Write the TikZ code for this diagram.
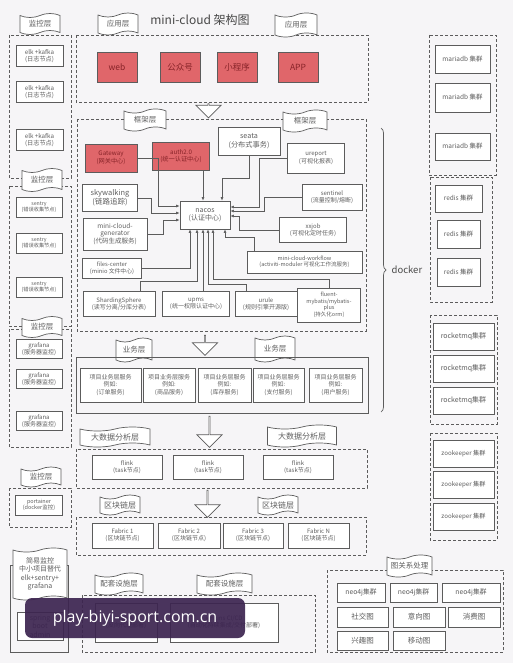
\documentclass[tikz,border=0pt]{standalone}
\usepackage{fontspec}
\setmainfont{Noto Sans CJK SC}
\newfontfamily\wmfont{Open Sans}
\usetikzlibrary{shapes.symbols,shapes.arrows,decorations.pathreplacing,arrows.meta}
\definecolor{bgc}{RGB}{246,245,247}
\definecolor{lnc}{RGB}{92,92,92}
\definecolor{txt}{RGB}{95,95,95}
\definecolor{appred}{RGB}{224,102,106}
\definecolor{redtxt}{RGB}{135,35,40}
\definecolor{wmark}{RGB}{60,36,80}
\newcommand\fsz[1]{\fontsize{#1pt}{\dimexpr #1pt*6/5\relax}\selectfont}

\begin{document}
\begin{tikzpicture}[x=1pt, y=-1pt, >={Latex[length=3.5pt,width=3pt]},
	every node/.style={font=\fsz{6}, text=txt},
	wh/.style 2 args={minimum width=#1, minimum height=#2},
	box/.style={draw=lnc, fill=white, line width=0.7pt, align=center, inner sep=0.5pt},
	redbox/.style={box, fill=appred, text=redtxt},
	grp/.style={draw=lnc, line width=0.7pt, dash pattern=on 3pt off 2pt},
	flag/.style={tape, draw=lnc, fill=white, line width=0.7pt, inner sep=0pt, tape bend height=4pt, align=center, font=\fsz{7.5}},
	downarrow/.style={single arrow, draw=lnc, fill=white, line width=0.7pt, rotate=-90, minimum width=25, single arrow head extend=6.5pt, single arrow head indent=0pt, inner sep=0pt},
	link/.style={->, draw=lnc, line width=0.6pt}]
	\useasboundingbox (0,0) rectangle (513,663);
	\fill[bgc] (0,0) rectangle (513,663);
	\node[font=\fsz{12}, text=black!72] (title) at (200,20) {mini-cloud 架构图};

	% monitoring column
	\draw[grp] (9,35) rectangle (71,178);
	\draw[grp] (9,186) rectangle (71,326);
	\draw[grp] (9,329) rectangle (71,447);
	\draw[grp] (9,488) rectangle (71,527);
	\draw[lnc, line width=0.7pt] (10,565) rectangle (68,652);
	\foreach \y/\n in {56/1,92/2,140/3} {\node[box, wh={47}{21}, font=\fsz{6.2}] (elk\n) at (39.5,\y) {elk +kafka\\(日志节点)};}
	\foreach \y/\n in {207/1,243/2,287/3} {\node[box, wh={46}{20}, font=\fsz{5.2}] (sentry\n) at (39,\y) {sentry\\(错误收集节点)};}
	\foreach \y/\n in {349/1,379/2,421/3} {\node[box, wh={46}{19}] (grafana\n) at (39,\y) {grafana\\(服务器监控)};}
	\node[box, wh={47}{20}, font=\fsz{5.5}] (portainer) at (39,505) {portainer\\(docker监控)};
	\node[flag, wh={40}{21}] (mon1) at (40,24) {监控层};
	\node[flag, wh={40}{23}] (mon2) at (42,180) {监控层};
	\node[flag, wh={40}{21}] (mon3) at (42,327) {监控层};
	\node[flag, wh={40}{20}] (mon4) at (41,477) {监控层};
	\node[flag, wh={54}{52}, font=\fsz{7}] (simple) at (40,574) {简易监控\\中小项目替代\\elk+sentry+\\grafana};
	\node[box, wh={46}{28}, font=\fsz{7}] (sba) at (40,626) {spring\\boot\\admin};

	% application layer
	\draw[grp] (76,35) rectangle (368,102);
	\node[flag, wh={40}{22}] (appL) at (118,24) {应用层};
	\node[flag, wh={42}{24}] (appR) at (296,25) {应用层};
	\node[redbox, wh={40}{30}, font=\fsz{8.5}] (web) at (117,67) {web};
	\node[redbox, wh={40}{30}, font=\fsz{8.5}] (gzh) at (180,67) {公众号};
	\node[redbox, wh={40}{30}, font=\fsz{8.5}] (xcx) at (237,67) {小程序};
	\node[redbox, wh={40}{30}, font=\fsz{8.5}] (app) at (298,67) {APP};
	\node[downarrow, minimum height=14] (arr1) at (208.5,110.5) {};

	% framework layer
	\draw[grp] (77,119) rectangle (366,331);
	\node[flag, wh={42}{22}] (frmL) at (145,120) {框架层};
	\node[flag, wh={44}{22}] (frmR) at (305,121) {框架层};
	\node[redbox, wh={52}{28}, font=\fsz{6.2}] (gw) at (111,158) {Gateway\\(网关中心)};
	\node[redbox, wh={57}{28}, font=\fsz{6.2}] (auth) at (181,156) {auth2.0\\(统一认证中心)};
	\node[box, wh={62}{28}, font=\fsz{7.2}] (seata) at (249,141) {seata\\(分布式事务)};
	\node[box, wh={57}{30}] (ureport) at (316,158) {ureport\\(可视化报表)};
	\node[box, wh={60}{26}] (sentinel) at (332,197) {sentinel\\(流量控制/熔断)};
	\node[box, wh={67}{25}] (xxjob) at (313,230) {xxjob\\(可视化定时任务)};
	\node[box, wh={55}{27}, font=\fsz{7.5}] (sky) at (110,198) {skywalking\\(链路追踪)};
	\node[box, wh={64}{32}, font=\fsz{6.5}] (gen) at (115,234) {mini-cloud-\\generator\\(代码生成服务)};
	\node[box, wh={50}{28}, font=\fsz{7}] (nacos) at (205,215) {nacos\\(认证中心)};
	\node[box, wh={59}{20}, font=\fsz{5.8}] (files) at (112,268) {files-center\\(minio 文件中心)};
	\node[box, wh={115}{22}, font=\fsz{5.5}] (wf) at (304.5,262) {mini-cloud-workflow\\(activiti-moduler 可视化工作流服务)};
	\node[box, wh={72}{25}] (shard) at (119,304) {ShardingSphere\\(读写分离/分库分表)};
	\node[box, wh={67}{25}] (upms) at (196,304) {upms\\(统一权限认证中心)};
	\node[box, wh={62}{25}] (urule) at (266,304) {urule\\(规则引擎开源版)};
	\node[box, wh={63}{34}, font=\fsz{5.5}] (fluent) at (329,305) {fluent-\\mybatis/mybatis-\\plus\\(持久化orm)};
	\draw[link] (gw.east) -- ++(21,0) |- ([yshift=9pt]nacos.west);
	\draw[link] (sky.east) -- ++(13,0) |- ([yshift=2pt]nacos.west);
	\draw[link] (gen.east) -- ++(16,0) |- ([yshift=-5pt]nacos.west);
	\draw[link] ([xshift=22pt]auth.south) -- ([xshift=22pt]auth.south |- nacos.north);
	\draw[link] (seata.south) -- ++(0,23) -| ([xshift=17pt]nacos.north);
	\draw[link] (ureport.west) -- ++(-28,0) |- ([yshift=8pt]nacos.east);
	\draw[link] (sentinel.west) -- ++(-37,0) |- ([yshift=4pt]nacos.east);
	\draw[link] (xxjob.west) -- ++(-40,0) |- ([yshift=-1pt]nacos.east);
	\draw[link] (files.east) -| ([xshift=-15pt]nacos.south);
	\draw[link] ([xshift=21pt]shard.north) -- ++(0,-10) -| ([xshift=-8pt]nacos.south);
	\draw[link] ([xshift=7pt]upms.north) -- ([xshift=7pt]upms.north |- nacos.south);
	\draw[link] ([xshift=-20pt]urule.north) -- ++(0,-7) -| ([xshift=3pt]nacos.south);
	\draw[link] (fluent.north) -- ++(0,-8) -| ([xshift=8pt]nacos.south);
	\draw[link] ([xshift=-50pt]wf.north) -- ++(0,-13) -| ([xshift=20pt]nacos.south);

	% business layer
	\node[downarrow, minimum height=20] (arr2) at (205,345) {};
	\node[flag, wh={36}{24}] (bizL) at (134,350) {业务层};
	\node[flag, wh={40}{26}] (bizR) at (275,349) {业务层};
	\draw[lnc, line width=0.7pt] (76,357) rectangle (368,413);
	\node[box, wh={61}{34}] (biz1) at (110.5,385) {项目业务层服务\\例如:\\(订单服务)};
	\node[box, wh={52}{34}] (biz2) at (169,385) {项目业务层服务\\例如:\\(商品服务)};
	\node[box, wh={53}{34}] (biz3) at (224.5,385) {项目业务层服务\\例如:\\(库存服务)};
	\node[box, wh={51}{34}] (biz4) at (278.5,385) {项目业务层服务\\例如:\\(支付服务)};
	\node[box, wh={53}{34}] (biz5) at (335.5,385) {项目业务层服务\\例如:\\(用户服务)};

	% big data layer
	\node[downarrow, minimum height=31] (arr3) at (209.5,431.5) {};
	\node[flag, wh={70}{20}, font=\fsz{8}] (bdL) at (115,437) {大数据分析层};
	\node[flag, wh={69}{22}, font=\fsz{8}] (bdR) at (302,436) {大数据分析层};
	\draw[grp] (76,449) rectangle (367,488);
	\foreach \x/\n in {127/1,208/2,298/3} {\node[box, wh={70}{24}] (flink\n) at (\x,467) {flink\\(task节点)};}

	% blockchain layer
	\node[downarrow, minimum height=27] (arr4) at (207.5,503.5) {};
	\node[flag, wh={40}{20}, font=\fsz{8}] (bcL) at (120,505) {区块链层};
	\node[flag, wh={40}{20}, font=\fsz{8}] (bcR) at (278,505) {区块链层};
	\draw[grp] (76,517) rectangle (366,555);
	\node[box, wh={61}{25}] (fab1) at (122.5,535.5) {Fabric 1\\(区块链节点)};
	\node[box, wh={62}{25}] (fab2) at (189,535.5) {Fabric 2\\(区块链节点)};
	\node[box, wh={60}{25}] (fab3) at (253,535.5) {Fabric 3\\(区块链节点)};
	\node[box, wh={61}{25}] (fabn) at (318.5,535.5) {Fabric N\\(区块链节点)};

	% support layer
	\node[flag, wh={48}{22}] (supL) at (119,584) {配套设施层};
	\node[flag, wh={55}{22}] (supR) at (224.5,584) {配套设施层};
	\draw[grp] (82,595) rectangle (315,652);
	\node[box, wh={62}{39}] (sup1) at (126,622.5) {nginx\\(反向代理部署)};
	\node[box, wh={108}{39}] (sup2) at (224,622.5) {jenkins CI/CD\\(自动化持续集成/交付部署)};

	% graph processing
	\draw[grp] (327,570) rectangle (503,652);
	\node[flag, wh={45}{22}] (graph) at (409.5,566) {图关系处理};
	\node[box, wh={48}{19}, font=\fsz{6.8}] (neo1) at (361,592.5) {neo4j集群};
	\node[box, wh={47}{19}, font=\fsz{6.8}] (neo2) at (413.5,592.5) {neo4j集群};
	\node[box, wh={58}{19}, font=\fsz{6.8}] (neo3) at (471,592.5) {neo4j集群};
	\node[box, wh={51}{20}, font=\fsz{7.5}] (social) at (362.5,617) {社交图};
	\node[box, wh={52}{20}, font=\fsz{7.5}] (intent) at (419,617) {意向图};
	\node[box, wh={52}{20}, font=\fsz{7.5}] (consume) at (474,617) {消费图};
	\node[box, wh={51}{19}, font=\fsz{7.5}] (interest) at (362.5,640.5) {兴趣图};
	\node[box, wh={52}{19}, font=\fsz{7.5}] (mobile) at (419,640.5) {移动图};

	% docker column
	\draw[lnc, line width=0.7pt, decorate, decoration={brace, amplitude=5pt}] (381,128) -- (381,412) node[midway, right=7pt, font=\fsz{9.5}, text=black!70] (docker) {docker};
	\draw[grp] (429,35) rectangle (496,175);
	\node[box, wh={55}{28}, font=\fsz{6.5}] (maria1) at (462.5,59) {mariadb 集群};
	\node[box, wh={55}{29}, font=\fsz{6.5}] (maria2) at (462.5,97.5) {mariadb 集群};
	\node[box, wh={55}{27}, font=\fsz{6.5}] (maria3) at (462.5,146.5) {mariadb 集群};
	\draw[grp] (430,177) rectangle (492,302);
	\node[box, wh={47}{27}, font=\fsz{6.5}] (redis1) at (458.5,198.5) {redis 集群};
	\node[box, wh={43}{28}, font=\fsz{6.5}] (redis2) at (458.5,234) {redis 集群};
	\node[box, wh={43}{28}, font=\fsz{6.5}] (redis3) at (458.5,272) {redis 集群};
	\draw[grp] (430,315) rectangle (497,424);
	\foreach \y/\n in {336.5/1,368.5/2,400.5/3} {\node[box, wh={61}{27}, font=\fsz{7}] (rmq\n) at (463.5,\y) {rocketmq集群};}
	\draw[grp] (430,433) rectangle (497,540);
	\foreach \y/\n in {453.5/1,485/2,516.5/3} {\node[box, wh={61}{27}, font=\fsz{6.2}] (zk\n) at (463.5,\y) {zookeeper 集群};}

	% overlay
	\node[fill=wmark, fill opacity=0.92, text opacity=1, rounded corners=7pt, wh={220}{40}, text=white, font=\wmfont\fsz{16}] (wm) at (135,618) {play-biyi-sport.com.cn};
\end{tikzpicture}
\end{document}
